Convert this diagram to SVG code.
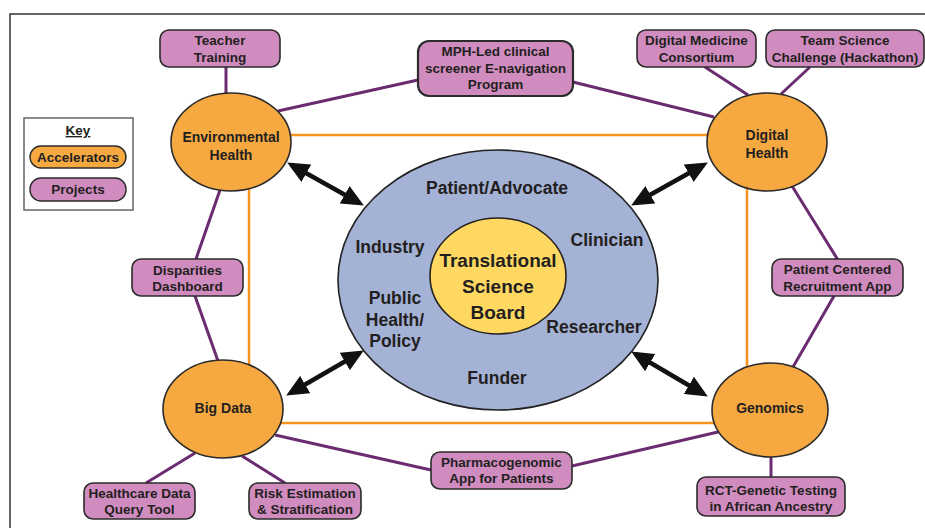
<svg xmlns="http://www.w3.org/2000/svg" width="925" height="528" viewBox="0 0 925 528">
<style>
text{font-family:"Liberation Sans",Arial,sans-serif;font-weight:bold;fill:#231f20;text-anchor:middle}
.proj rect{fill:#D08CBF;stroke:#2b2b2b;stroke-width:1.6}
.acc ellipse{fill:#F6A941;stroke:#2b2b2b;stroke-width:1.6}
.pt{font-size:13.5px}
.at{font-size:14px}
.ct{font-size:17.5px}
.pl{stroke:#6B2B70;stroke-width:3;fill:none}
.ar{stroke:#111;stroke-width:4.5;fill:none;marker-start:url(#ah);marker-end:url(#ah)}
</style>
<defs>
<marker id="ah" markerUnits="userSpaceOnUse" markerWidth="22" markerHeight="20" viewBox="0 0 22 20" refX="17" refY="10" orient="auto-start-reverse">
<path d="M0,0 L22,10 L0,20 z" fill="#111"/>
</marker>
</defs>
<rect width="925" height="528" fill="#fff"/>
<g id="frame" stroke="#333" stroke-width="1.5" fill="none">
<path d="M10,528 L10,14 L925,14"/>
</g>
<g id="connectors">
<rect x="249" y="135" width="498" height="288" fill="none" stroke="#F7941E" stroke-width="2.5"/>
<line class="pl" x1="226" y1="67" x2="226" y2="94"/>
<line class="pl" x1="278" y1="111" x2="418" y2="80"/>
<line class="pl" x1="573" y1="82" x2="714" y2="117"/>
<line class="pl" x1="705" y1="67" x2="748" y2="95"/>
<line class="pl" x1="810" y1="67" x2="781" y2="94"/>
<line class="pl" x1="792" y1="186" x2="838" y2="260"/>
<line class="pl" x1="834" y1="296" x2="793" y2="367"/>
<line class="pl" x1="718" y1="432" x2="572" y2="466"/>
<line class="pl" x1="275" y1="435" x2="431" y2="470"/>
<line class="pl" x1="771" y1="457" x2="771" y2="477"/>
<line class="pl" x1="195" y1="453" x2="146" y2="483"/>
<line class="pl" x1="242" y1="456" x2="285" y2="483"/>
<line class="pl" x1="220" y1="190" x2="196" y2="259"/>
<line class="pl" x1="195" y1="296" x2="218" y2="361"/>
</g>
<g id="stakeholders">
<ellipse cx="498" cy="280" rx="160" ry="130" fill="#A4B2D6" stroke="#222" stroke-width="1.6"/>
<text class="ct" x="497" y="194">Patient/Advocate</text>
<text class="ct" x="390" y="253">Industry</text>
<text class="ct" x="607" y="246">Clinician</text>
<text class="ct" x="395" y="304">Public</text>
<text class="ct" x="395" y="326">Health/</text>
<text class="ct" x="395" y="347">Policy</text>
<text class="ct" x="594" y="333">Researcher</text>
<text class="ct" x="497" y="384">Funder</text>
</g>
<g id="board">
<ellipse cx="498" cy="276" rx="68" ry="58" fill="#FFD862" stroke="#222" stroke-width="1.6"/>
<text x="498" y="267" font-size="19">Translational</text>
<text x="498" y="293" font-size="19">Science</text>
<text x="498" y="319" font-size="19">Board</text>
</g>
<g id="arrows">
<line class="ar" x1="291.5" y1="165" x2="359.5" y2="203"/>
<line class="ar" x1="635.5" y1="203" x2="703.5" y2="165"/>
<line class="ar" x1="290.5" y1="393" x2="359.5" y2="353"/>
<line class="ar" x1="635.5" y1="354" x2="703.5" y2="394"/>
</g>
<g id="environmental-health" class="acc">
<ellipse cx="231" cy="142" rx="60" ry="49"/>
<text class="at" x="231" y="142">Environmental</text>
<text class="at" x="231" y="160">Health</text>
</g>
<g id="digital-health" class="acc">
<ellipse cx="767" cy="142" rx="60" ry="49"/>
<text class="at" x="767" y="140">Digital</text>
<text class="at" x="767" y="158">Health</text>
</g>
<g id="big-data" class="acc">
<ellipse cx="223" cy="409" rx="60" ry="49"/>
<text class="at" x="223" y="413">Big Data</text>
</g>
<g id="genomics" class="acc">
<ellipse cx="770" cy="410" rx="58" ry="47"/>
<text class="at" x="770" y="413">Genomics</text>
</g>
<g id="teacher-training" class="proj">
<rect x="160" y="30" width="120" height="37" rx="9"/>
<text class="pt" x="220" y="45">Teacher</text>
<text class="pt" x="220" y="62">Training</text>
</g>
<g id="mph-program" class="proj">
<rect x="418" y="41" width="155" height="55" rx="11" style="stroke-width:2.2"/>
<text class="pt" x="495.5" y="56">MPH-Led clinical</text>
<text class="pt" x="495.5" y="73">screener E-navigation</text>
<text class="pt" x="495.5" y="89">Program</text>
</g>
<g id="digital-medicine" class="proj">
<rect x="637" y="30" width="119" height="37" rx="9"/>
<text class="pt" x="696.5" y="45">Digital Medicine</text>
<text class="pt" x="696.5" y="62">Consortium</text>
</g>
<g id="team-science" class="proj">
<rect x="766" y="30" width="158" height="37" rx="9"/>
<text class="pt" x="845" y="45">Team Science</text>
<text class="pt" x="845" y="62">Challenge (Hackathon)</text>
</g>
<g id="disparities" class="proj">
<rect x="132" y="259" width="111" height="37" rx="9"/>
<text class="pt" x="187.5" y="275">Disparities</text>
<text class="pt" x="187.5" y="291">Dashboard</text>
</g>
<g id="patient-centered" class="proj">
<rect x="772" y="259" width="131" height="37" rx="9"/>
<text class="pt" x="837.5" y="274">Patient Centered</text>
<text class="pt" x="837.5" y="291">Recruitment App</text>
</g>
<g id="pharmacogenomic" class="proj">
<rect x="431" y="452" width="141" height="37" rx="9"/>
<text class="pt" x="501.5" y="467">Pharmacogenomic</text>
<text class="pt" x="501.5" y="483">App for Patients</text>
</g>
<g id="rct-genetic" class="proj">
<rect x="697" y="477" width="148" height="39" rx="9"/>
<text class="pt" x="771" y="495">RCT-Genetic Testing</text>
<text class="pt" x="771" y="511">in African Ancestry</text>
</g>
<g id="healthcare-data" class="proj">
<rect x="84" y="483" width="111" height="36" rx="9"/>
<text class="pt" x="139.5" y="498">Healthcare Data</text>
<text class="pt" x="139.5" y="514">Query Tool</text>
</g>
<g id="risk-estimation" class="proj">
<rect x="249" y="483" width="112" height="36" rx="9"/>
<text class="pt" x="305" y="498">Risk Estimation</text>
<text class="pt" x="305" y="514">&amp; Stratification</text>
</g>
<g id="key">
<rect x="24" y="118" width="109" height="92" fill="#fff" stroke="#666" stroke-width="1.5"/>
<text x="78" y="135" font-size="13.5" text-decoration="underline">Key</text>
<rect x="30" y="146" width="96" height="22" rx="11" fill="#F6A941" stroke="#2b2b2b" stroke-width="1.4"/>
<text class="pt" x="78" y="162">Accelerators</text>
<rect x="30" y="178" width="96" height="23" rx="11" fill="#D08CBF" stroke="#2b2b2b" stroke-width="1.4"/>
<text class="pt" x="78" y="194">Projects</text>
</g>
</svg>
